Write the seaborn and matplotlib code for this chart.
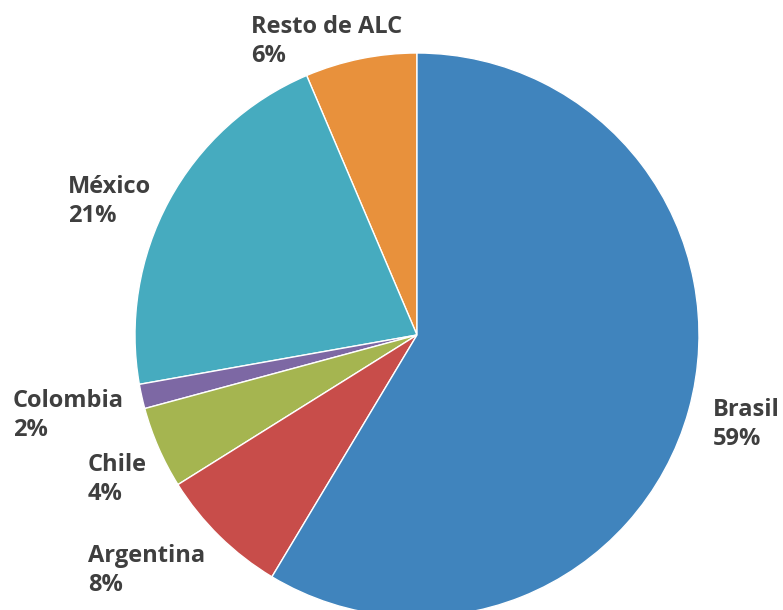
import matplotlib
matplotlib.use('Agg')
import matplotlib.pyplot as plt
import seaborn as sns

# Share by country, counter-clockwise from 12 o'clock
countries = ['Resto de ALC', 'México', 'Colombia', 'Chile', 'Argentina', 'Brasil']
shares = [6.4, 21.4, 1.4, 4.7, 7.5, 58.6]
pct_labels = ['6%', '21%', '2%', '4%', '8%', '59%']

colors = ['#E8913C', '#46ABBF', '#7D68A4', '#A5B550', '#C84D4A', '#4084BD']

# label anchors in pixels (left, top)
label_pos = {
    'Resto de ALC': (251, 15),
    'México': (68, 175),
    'Colombia': (13, 389),
    'Chile': (88, 453),
    'Argentina': (88, 544),
    'Brasil': (713, 398),
}

sns.set_theme(style='white')
plt.rcParams['font.family'] = ['Open Sans', 'DejaVu Sans']

W, H = 783, 610
fig = plt.figure(figsize=(W / 100, H / 100), dpi=100)
ax = fig.add_axes([0, 0, 1, 1])

cx, cy, r = 417, 335, 282
ax.pie(shares, colors=colors, startangle=90, counterclock=True,
       wedgeprops={'linewidth': 1, 'edgecolor': 'white'})
ax.set_aspect('auto')
ax.set_xlim(-cx / r, (W - cx) / r)
ax.set_ylim(-(H - cy) / r, cy / r)
ax.axis('off')

for name, pct in zip(countries, pct_labels):
    px, py = label_pos[name]
    fig.text(px / W, 1 - py / H, '{}\n{}'.format(name, pct), ha='left', va='top',
             fontsize=17, fontweight='bold', color='#3f3f3f', linespacing=1.27)

fig.savefig('out.png', dpi=100)
